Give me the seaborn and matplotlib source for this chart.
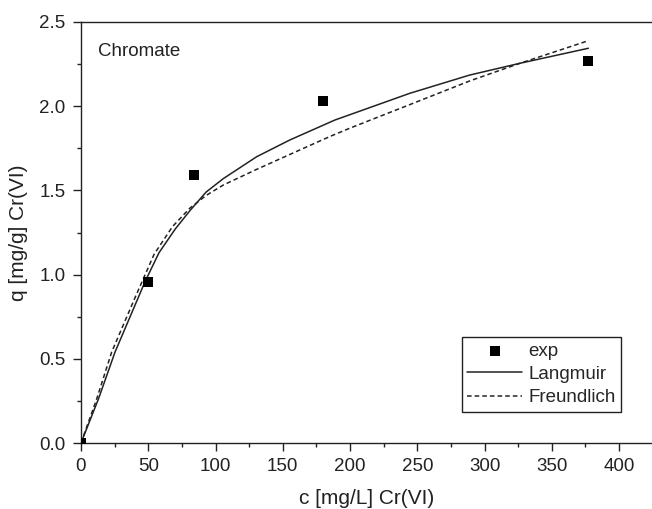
import seaborn as sns
import matplotlib.pyplot as plt
import pandas as pd
from matplotlib.ticker import MultipleLocator

# experimental points
exp_c = [0, 50, 84, 180, 377]
exp_q = [0.0, 0.955, 1.59, 2.033, 2.27]

# fitted curves
lang_c = [0, 12.9, 25.3, 47.6, 58, 70, 81, 93, 105.8, 130.6, 155.4, 188.8, 244.6, 289, 326.4, 377.2]
lang_q = [0, 0.26, 0.54, 0.958, 1.13, 1.27, 1.38, 1.49, 1.57, 1.70, 1.80, 1.918, 2.077, 2.185, 2.255, 2.344]

freu_c = [0, 11.6, 22.8, 40, 54.3, 68, 81, 93, 105.8, 130.6, 155.4, 185, 200, 244.6, 289, 326.4, 377.2]
freu_q = [0, 0.26, 0.54, 0.86, 1.12, 1.285, 1.395, 1.47, 1.532, 1.625, 1.714, 1.82, 1.87, 2.01, 2.15, 2.255, 2.389]

sns.set_theme(style='ticks')
plt.rcParams['font.family'] = ['Liberation Sans', 'DejaVu Sans']
INK = '#222222'

df_exp = pd.DataFrame({'c': exp_c, 'q': exp_q})
df_lang = pd.DataFrame({'c': lang_c, 'q': lang_q})
df_freu = pd.DataFrame({'c': freu_c, 'q': freu_q})

fig = plt.figure(figsize=(6.52, 5.09), dpi=100)
ax = fig.add_axes([81 / 652, 66 / 509, 1 - 81 / 652, 421 / 509])

sns.lineplot(data=df_lang, x='c', y='q', ax=ax, sort=False, estimator=None,
             color=INK, lw=1.1, label='Langmuir')
sns.lineplot(data=df_freu, x='c', y='q', ax=ax, sort=False, estimator=None,
             color=INK, lw=1.1, linestyle=(0, (3, 2)), label='Freundlich')
sns.scatterplot(data=df_exp, x='c', y='q', ax=ax, marker='s', s=55,
                color='black', linewidth=0, zorder=5, label='exp')

ax.set_xlim(0, 424.5)
ax.set_ylim(0, 2.5)
ax.xaxis.set_major_locator(MultipleLocator(50))
ax.xaxis.set_minor_locator(MultipleLocator(25))
ax.yaxis.set_major_locator(MultipleLocator(0.5))
ax.yaxis.set_minor_locator(MultipleLocator(0.25))
ax.yaxis.set_major_formatter(plt.FormatStrFormatter('%.1f'))
ax.tick_params(which='major', direction='out', length=6, width=1, colors=INK,
               labelsize=13.5, pad=5)
ax.tick_params(which='minor', direction='out', length=3, width=1, colors=INK)

for side in ['left', 'bottom', 'top']:
    ax.spines[side].set_color(INK)
    ax.spines[side].set_linewidth(1.0)
ax.spines['right'].set_visible(False)

ax.set_xlabel('c [mg/L] Cr(VI)', fontsize=15, color=INK, labelpad=10)
ax.set_ylabel('q [mg/g] Cr(VI)', fontsize=15, color=INK, labelpad=8)
ax.text(0.03, 0.93, 'Chromate', transform=ax.transAxes, fontsize=13.5,
        color=INK, va='center')

h, l = ax.get_legend_handles_labels()
order = [l.index('exp'), l.index('Langmuir'), l.index('Freundlich')]
leg = ax.legend([h[i] for i in order], [l[i] for i in order],
                loc='lower left', bbox_to_anchor=(0.667, 0.074),
                fontsize=13.5, frameon=True, fancybox=False, framealpha=1,
                edgecolor=INK, borderpad=0.3, borderaxespad=0,
                handlelength=2.9, handletextpad=0.35, labelspacing=0.33)
leg.get_frame().set_linewidth(1.0)

fig.savefig('out.png', dpi=100)
